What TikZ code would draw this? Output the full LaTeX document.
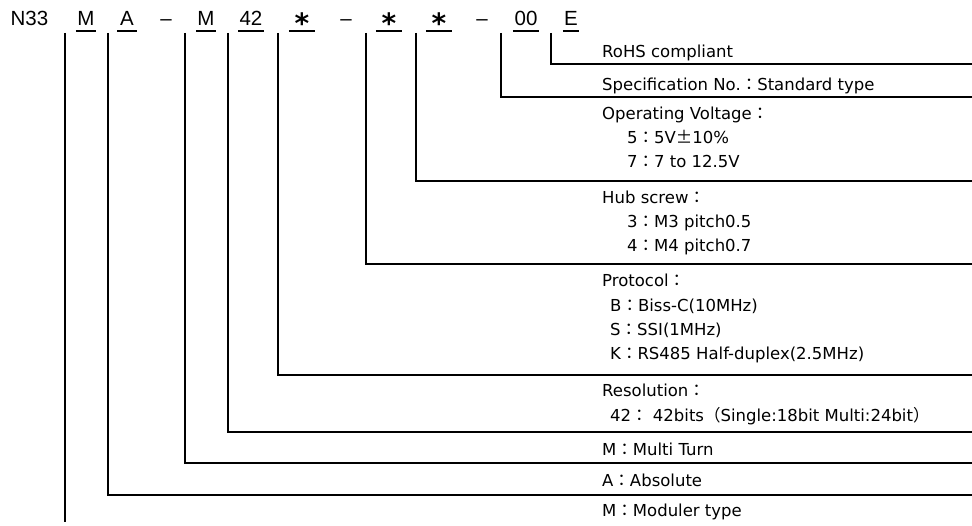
\documentclass[tikz,border=0pt]{standalone}
\usepackage{fontspec}
\setmainfont{DejaVu Sans}
\newfontfamily\hdrfont{Liberation Sans}
\newfontfamily\cjkfont{Noto Sans CJK JP}
\newcommand\fwc{{\cjkfont ：}}
\newcommand\fwpm{{\cjkfont ±}}
\newcommand\hast{\raisebox{-8.5pt}{\fontspec{DejaVu Sans}\bfseries\fontsize{28}{30}\selectfont *}}
\begin{document}
\begin{tikzpicture}[x=1pt,y=-1pt,
  hdr/.style={inner sep=0pt,anchor=base,font=\hdrfont\fontsize{20.5}{23}\selectfont},
  code/.style={hdr,minimum width=#1},
  lbl/.style={inner sep=0pt,anchor=base west,font=\fontsize{16.5}{20}\selectfont},
  uline/.style={line width=1.4pt},
  conn/.style={line width=1.5pt},
]
\useasboundingbox (0,0) rectangle (972,526);
% header codes
\node[hdr] (hN) at (29.5,25.5) {N33};
\node[code=20pt] (c1) at (86,25.5) {M};
\node[code=19pt] (c2) at (127,25.5) {A};
\node[hdr] (d1) at (166,25.5) {–};
\node[code=19pt] (c3) at (206,25.5) {M};
\node[code=25pt] (c4) at (251,25.5) {42};
\node[code=26pt] (c5) at (302,25.5) {\hast};
\node[hdr] (d2) at (346,25.5) {–};
\node[code=26pt] (c6) at (389,25.5) {\hast};
\node[code=26pt] (c7) at (439,25.5) {\hast};
\node[hdr] (d3) at (482,25.5) {–};
\node[code=26pt] (c8) at (526,25.5) {00};
\node[code=16pt] (c9) at (571,25.5) {E};
\foreach \c in {c1,c2,c3,c4,c5,c6,c7,c8,c9}
  \draw[uline] ([yshift=-5.5pt]\c.base west) -- ([yshift=-5.5pt]\c.base east);

% labels
\node[lbl] (l9) at (602,58) {RoHS compliant};
\node[lbl] (l8) at (602,91) {Specification No.\fwc{}Standard type};
\node[lbl] (l7) at (602,120) {Operating Voltage\fwc};
\node[lbl] (l7a) at (627,144) {5\fwc{}5V\fwpm{}10\%};
\node[lbl] (l7b) at (627,168) {7\fwc{}7 to 12.5V};
\node[lbl] (l6) at (602,204) {Hub screw\fwc};
\node[lbl] (l6a) at (627,228) {3\fwc{}M3 pitch0.5};
\node[lbl] (l6b) at (627,252) {4\fwc{}M4 pitch0.7};
\node[lbl] (l5) at (602,287) {Protocol\fwc};
\node[lbl] (l5a) at (610,312) {B\fwc{}Biss-C(10MHz)};
\node[lbl] (l5b) at (610,336) {S\fwc{}SSI(1MHz)};
\node[lbl] (l5c) at (610,360) {K\fwc{}RS485 Half-duplex(2.5MHz)};
\node[lbl] (l4) at (602,397) {Resolution\fwc};
\node[lbl] (l4a) at (610,421) {42\fwc{} 42bits{\cjkfont （}Single:18bit Multi:24bit{\cjkfont ）}};
\node[lbl] (l3) at (602,456) {M\fwc{}Multi Turn};
\node[lbl] (l2) at (602,486) {A\fwc{}Absolute};
\node[lbl] (l1) at (602,516) {M\fwc{}Moduler type};

% connector tops and ends
\coordinate (t1) at (65,33);   \coordinate (e1) at (65,522);
\coordinate (t2) at (108,33);  \coordinate (e2) at (972,495);
\coordinate (t3) at (185,33);  \coordinate (e3) at (972,463);
\coordinate (t4) at (228,33);  \coordinate (e4) at (972,432);
\coordinate (t5) at (278,33);  \coordinate (e5) at (972,375);
\coordinate (t6) at (366,33);  \coordinate (e6) at (972,264);
\coordinate (t7) at (416,33);  \coordinate (e7) at (972,181);
\coordinate (t8) at (501,33);  \coordinate (e8) at (972,97);
\coordinate (t9) at (551,33);  \coordinate (e9) at (972,64);

\draw[conn] (t1) -- (e1);
\foreach \i in {2,...,9}
  \draw[conn] (t\i) |- (e\i);
\end{tikzpicture}
\end{document}
